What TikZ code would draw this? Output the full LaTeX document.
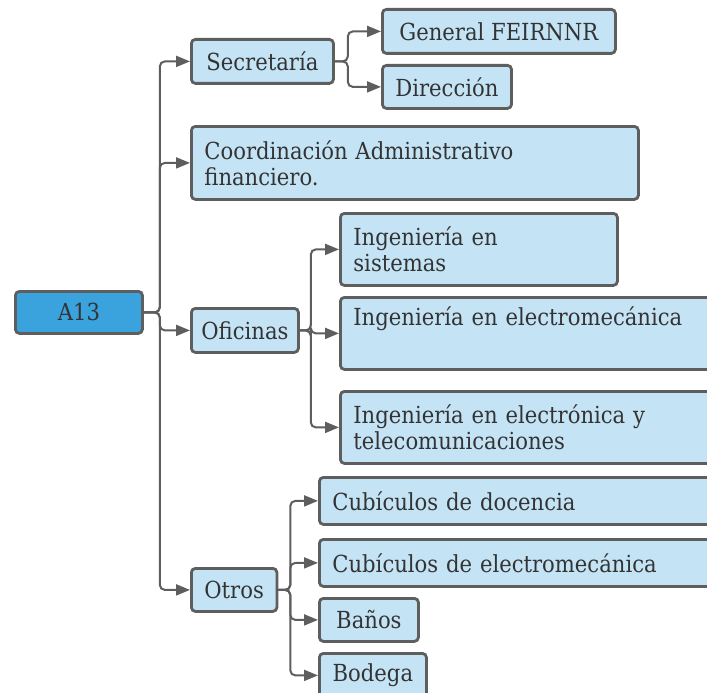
\documentclass[tikz,border=0pt]{standalone}
\usepackage{fontspec}
\setmainfont{DejaVu Serif Condensed}
\usetikzlibrary{arrows.meta}
\definecolor{lineGray}{HTML}{5E5E5E}
\definecolor{rootBlue}{HTML}{3AA3DD}
\definecolor{itemBlue}{HTML}{C4E4F6}
\definecolor{textGray}{HTML}{333333}

\begin{document}
\begin{tikzpicture}[x=1pt,y=-1pt,
  box/.style={draw=lineGray,line width=2.8pt,rounded corners=4pt,fill=itemBlue,
    anchor=north west,inner xsep=13pt,inner ysep=0pt,text=textGray,
    font=\fontsize{23.5}{26}\selectfont},
  rootbox/.style={box,fill=rootBlue},
  link/.style={draw=lineGray,line width=2pt,rounded corners=5pt,
    -{Triangle[length=14pt,width=11pt]}}]
\useasboundingbox (0,0) rectangle (707,693);
\clip (0,0) rectangle (707,693);
% root and first level
\node[rootbox,minimum width=127,minimum height=42] (root) at (14,290) {A13};
\node[box,minimum width=142,minimum height=44] (sec) at (190,38) {Secretaría};
\node[box,text width=421,align=left,minimum height=73] (coord) at (190,125)
  {Coordinación Administrativo\\financiero.};
\node[box,inner xsep=7pt,minimum width=107,minimum height=44] (ofi) at (190,307) {Oficinas};
\node[box,minimum width=85,minimum height=43] (otr) at (190,567) {Otros};
% secretaria
\node[box,minimum width=233,minimum height=44] (gen) at (381,8) {General FEIRNNR};
\node[box,minimum width=127,minimum height=43] (dir) at (381,64) {Dirección};
% oficinas
\node[box,text width=251,align=left,minimum height=72] (sis) at (339,212)
  {Ingeniería en\\sistemas};
\node[box,text width=360,align=left,minimum height=72] (emec) at (339,296)
  {Ingeniería en electromecánica\\\strut};
\node[box,text width=360,align=left,minimum height=72] (etel) at (339,390)
  {Ingeniería en electrónica y\\telecomunicaciones};
% otros
\node[box,text width=380,align=left,minimum height=47] (doc) at (318,476)
  {Cubículos de docencia};
\node[box,text width=380,align=left,minimum height=47] (cem) at (318,538)
  {Cubículos de electromecánica};
\node[box,minimum width=99,minimum height=43] (ban) at (318,597) {Baños};
\node[box,minimum width=107,minimum height=44] (bod) at (318,652) {Bodega};
% connectors
\foreach \n in {sec,coord,ofi,otr}
  \draw[link] (root.east) -- ++(16,0) |- (\n.west);
\foreach \n in {gen,dir}
  \draw[link] (sec.east) -- ++(13,0) |- (\n.west);
\foreach \n in {sis,emec,etel}
  \draw[link] (ofi.east) -- ++(11,0) |- (\n.west);
\foreach \n in {doc,cem,ban,bod}
  \draw[link] (otr.east) -- ++(12,0) |- (\n.west);
\end{tikzpicture}
\end{document}
